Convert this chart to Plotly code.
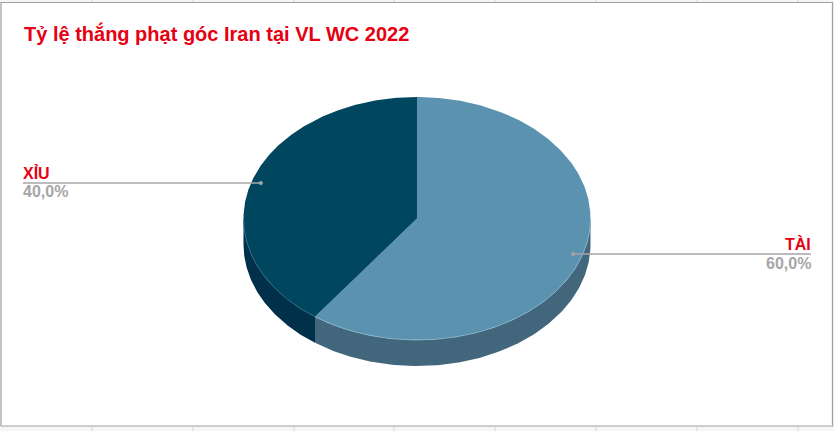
import numpy as np
import plotly.graph_objects as go

title = "Tỷ lệ thắng phạt góc Iran tại VL WC 2022"
categories = ["TÀI", "XỈU"]
values = [60.0, 40.0]
pct_labels = ["60,0%", "40,0%"]
top_colors = ["#5A92B0", "#00465F"]
wall_colors = ["#42667C", "#00304A"]
edge_colors = ["#86B4CC", "#2F6C86"]

W, H = 834, 431
CX, CY, RX, RY, DEPTH = 417.0, 218.5, 173.5, 121.5, 26.0


def pt(deg, r=1.0, dy=0.0):
    a = np.radians(deg)
    return CX + RX * r * np.sin(a), CY - RY * r * np.cos(a) + dy


fig = go.Figure()
total = sum(values)
start = 0.0
spans = []
for v in values:
    spans.append((start, start + v / total * 360.0))
    start = spans[-1][1]

# side walls (visible front half, 90..270 deg clockwise from top)
for (a0, a1), col in zip(spans, wall_colors):
    lo, hi = max(a0, 90.0), min(a1, 270.0)
    if hi <= lo:
        continue
    t = np.linspace(lo, hi, 160)
    x1, y1 = pt(t)
    x2, y2 = pt(t[::-1], dy=DEPTH)
    fig.add_trace(go.Scatter(x=np.r_[x1, x2], y=np.r_[y1, y2], mode="lines", fill="toself",
                             fillcolor=col, line=dict(width=0), hoverinfo="skip", showlegend=False))

# top faces
for (a0, a1), col, edge in zip(spans, top_colors, edge_colors):
    t = np.linspace(a0, a1, 300)
    x, y = pt(t)
    fig.add_trace(go.Scatter(x=np.r_[CX, x, CX], y=np.r_[CY, y, CY], mode="lines", fill="toself",
                             fillcolor=col, line=dict(width=0), hoverinfo="skip", showlegend=False))
    lo, hi = max(a0, 90.0), min(a1, 270.0)
    t = np.linspace(lo, hi, 200)
    x, y = pt(t)
    fig.add_trace(go.Scatter(x=x, y=y, mode="lines", line=dict(width=0.8, color=edge),
                             hoverinfo="skip", showlegend=False))

# leader lines with end dots and labels
ends = {"TÀI": 811, "XỈU": 23}
for (a0, a1), cat, pct in zip(spans, categories, pct_labels):
    mx, my = pt((a0 + a1) / 2.0, r=0.946)
    ex = ends[cat]
    fig.add_trace(go.Scatter(x=[mx, ex], y=[my, my], mode="lines", line=dict(width=1.3, color="#A6A6A6"),
                             hoverinfo="skip", showlegend=False))
    fig.add_trace(go.Scatter(x=[mx], y=[my], mode="markers", marker=dict(size=4, color="#A6A6A6"),
                             hoverinfo="skip", showlegend=False))
    anchor = "right" if ex > CX else "left"
    fig.add_annotation(x=ex, y=my - 1, text=f"<b>{cat}</b>", showarrow=False, xanchor=anchor, yanchor="bottom",
                       font=dict(family="Liberation Sans", size=16, color="#E60012"),
                       borderpad=0, borderwidth=0)
    fig.add_annotation(x=ex, y=my + 0.5, text=f"<b>{pct}</b>", showarrow=False, xanchor=anchor, yanchor="top",
                       font=dict(family="Liberation Sans", size=16, color="#A6A6A6"),
                       borderpad=0, borderwidth=0)

fig.add_annotation(x=24, y=33, text=f"<b>{title}</b>", showarrow=False, xanchor="left", yanchor="middle",
                   font=dict(family="Liberation Sans", size=20, color="#E60012"), borderpad=0, borderwidth=0)

shapes = [dict(type="rect", x0=1, y0=2.5, x1=832.5, y1=426, line=dict(color="#A0A0A0", width=1.2),
               fillcolor="white", layer="below")]
for gx in [92, 193, 294, 394, 495, 596, 697, 798]:
    shapes.append(dict(type="line", x0=gx, x1=gx, y0=0, y1=2, line=dict(color="#D4D4D4", width=1), layer="below"))
    shapes.append(dict(type="line", x0=gx, x1=gx, y0=427, y1=431, line=dict(color="#D4D4D4", width=1), layer="below"))

fig.update_layout(
    width=W, height=H, margin=dict(l=0, r=0, t=0, b=0), paper_bgcolor="#F6F6F6", plot_bgcolor="#F6F6F6",
    xaxis=dict(range=[0, W], visible=False, fixedrange=True),
    yaxis=dict(range=[H, 0], visible=False, fixedrange=True),
    shapes=shapes, showlegend=False,
)
fig.write_html("out.html", config={"displayModeBar": False},
               post_script="document.body.style.margin='0';document.documentElement.style.overflow='hidden';")
